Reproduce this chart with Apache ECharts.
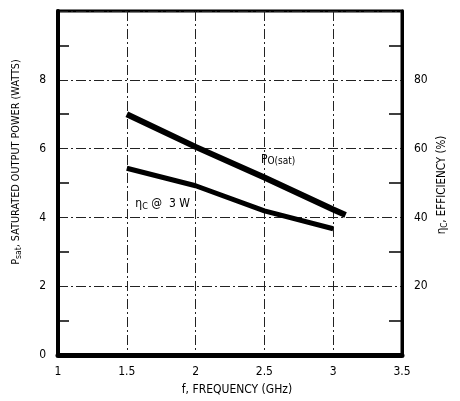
<!DOCTYPE html>
<html>
<head>
<meta charset="utf-8">
<script src="https://cdn.jsdelivr.net/npm/echarts@6/dist/echarts.min.js"></script>
<style>
  html, body { margin: 0; padding: 0; background: #fff; }
  #chart { width: 460px; height: 401px; }
</style>
</head>
<body>
<div id="chart"></div>
<script>
// frequency (GHz)
var freqPo = [1.5, 2.0, 2.5, 3.0, 3.09];
var powerSat = [7.0, 6.05, 5.16, 4.23, 4.07];     // Po(sat), watts
var freqEff = [1.5, 2.0, 2.5, 3.0];
var efficiency = [54.3, 49.2, 41.9, 36.7];        // eta_c @ 3 W, percent

var xTicks = [1, 1.5, 2, 2.5, 3, 3.5];
var leftTicks = [0, 2, 4, 6, 8];
var rightTicks = [20, 40, 60, 80];

var FONT = '"Liberation Sans Narrow", "DejaVu Sans Condensed", "Liberation Sans", sans-serif';

function pairs(xs, ys) {
    return xs.map(function (x, i) { return [x, ys[i]]; });
}

var gridLine = {
    show: true,
    lineStyle: { color: '#222', width: 1, type: [10, 3, 2, 3] }
};

var chart = echarts.init(document.getElementById('chart'));
var option = {
    backgroundColor: '#fff',
    animation: false,
    textStyle: { fontFamily: FONT, color: '#000' },
    grid: {
        left: 58, right: 58, top: 11, bottom: 46,
        show: true, borderColor: '#000', borderWidth: 3
    },
    xAxis: {
        type: 'value',
        min: 1, max: 3.5, interval: 0.5,
        axisLine: { show: true, onZero: false, lineStyle: { color: '#000', width: 5 } },
        axisTick: { show: false },
        axisLabel: {
            fontSize: 12, color: '#000', margin: 11,
            formatter: function (v) { return xTicks.indexOf(v) >= 0 ? String(v) : ''; }
        },
        splitLine: gridLine
    },
    yAxis: [
        {
            type: 'value',
            min: 0, max: 10, interval: 2,
            axisLine: { show: true, lineStyle: { color: '#000', width: 4 } },
            axisTick: { show: false },
            minorTick: { show: true, splitNumber: 2, length: -11, lineStyle: { color: '#000', width: 1.5 } },
            axisLabel: {
                fontSize: 12, color: '#000', margin: 12,
                formatter: function (v) { return leftTicks.indexOf(v) >= 0 ? String(v) : ''; }
            },
            splitLine: gridLine
        },
        {
            type: 'value',
            position: 'right',
            min: 0, max: 100, interval: 20,
            axisLine: { show: true, lineStyle: { color: '#000', width: 3 } },
            axisTick: { show: false },
            minorTick: { show: true, splitNumber: 2, length: -13, lineStyle: { color: '#000', width: 1.5 } },
            axisLabel: {
                fontSize: 12, color: '#000', margin: 12,
                formatter: function (v) { return rightTicks.indexOf(v) >= 0 ? String(v) : ''; }
            },
            splitLine: { show: false }
        }
    ],
    graphic: [
        {
            type: 'text', x: 16, y: 162, rotation: Math.PI / 2,
            style: {
                text: '{m|P}{s|sat}{m|, SATURATED OUTPUT POWER (WATTS)}',
                align: 'center', verticalAlign: 'middle', fill: '#000',
                rich: {
                    m: { fontFamily: FONT, fontSize: 10.8, lineHeight: 14, verticalAlign: 'middle', fill: '#000' },
                    s: { fontFamily: FONT, fontSize: 8.5, lineHeight: 14, verticalAlign: 'bottom', fill: '#000' }
                }
            }
        },
        {
            type: 'text', x: 442, y: 185, rotation: Math.PI / 2,
            style: {
                text: '{m|η}{s|C}{m|, EFFICIENCY (%)}',
                align: 'center', verticalAlign: 'middle', fill: '#000',
                rich: {
                    m: { fontFamily: FONT, fontSize: 11.5, lineHeight: 14, verticalAlign: 'middle', fill: '#000' },
                    s: { fontFamily: FONT, fontSize: 8, lineHeight: 14, verticalAlign: 'bottom', fill: '#000' }
                }
            }
        },
        {
            type: 'text', x: 237, y: 390,
            style: {
                text: 'f, FREQUENCY (GHz)',
                align: 'center', verticalAlign: 'middle',
                fontFamily: FONT, fontSize: 12, fill: '#000'
            }
        }
    ],
    series: [
        {
            name: 'Po(sat)',
            type: 'line',
            yAxisIndex: 0,
            data: pairs(freqPo, powerSat),
            showSymbol: false,
            lineStyle: { color: '#000', width: 6, cap: 'butt' },
            markPoint: {
                symbol: 'circle', symbolSize: 0,
                label: {
                    show: true, position: 'inside',
                    formatter: '{m|P}{s|O(sat)}',
                    rich: {
                        m: { fontSize: 12, lineHeight: 14, verticalAlign: 'middle', color: '#000' },
                        s: { fontSize: 10, lineHeight: 14, verticalAlign: 'bottom', color: '#000' }
                    }
                },
                data: [
                    { coord: [2.6, 5.68] },
                    {
                        coord: [1.76, 4.38],
                        label: {
                            formatter: '{m|η}{s|C}{m| @  3 W}',
                            rich: {
                                m: { fontSize: 12, lineHeight: 14, verticalAlign: 'middle', color: '#000' },
                                s: { fontSize: 9, lineHeight: 14, verticalAlign: 'bottom', color: '#000' }
                            }
                        }
                    }
                ]
            }
        },
        {
            name: 'eta_c @ 3 W',
            type: 'line',
            yAxisIndex: 1,
            data: pairs(freqEff, efficiency),
            showSymbol: false,
            lineStyle: { color: '#000', width: 5, cap: 'butt' }
        }
    ]
};
chart.setOption(option);
</script>
</body>
</html>
